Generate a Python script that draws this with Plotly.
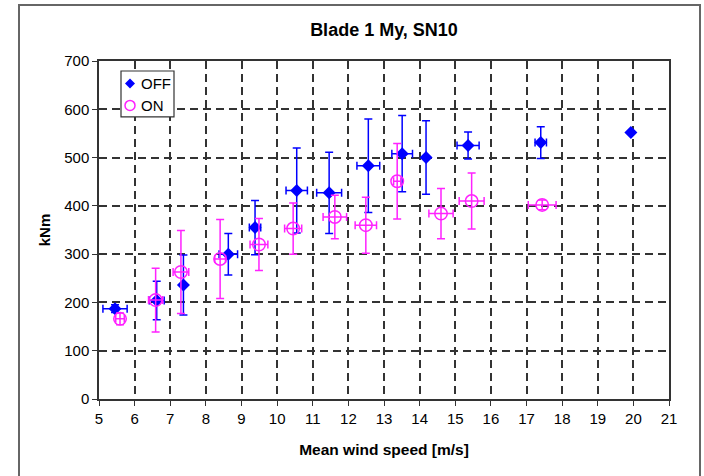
import plotly.graph_objects as go

# Blade 1 flapwise moment (My) vs mean wind speed, SN10
off_ws = [5.45, 6.62, 7.37, 8.63, 9.38, 10.55, 11.46, 12.56, 13.51, 14.18, 15.36, 17.40, 19.93]
off_my = [187, 204, 236, 300, 355, 432, 427, 483, 508, 500, 525, 531, 552]
off_my_err = [8, 40, 62, 43, 56, 88, 84, 97, 79, 76, 28, 33, 0]
off_ws_err = [0.34, 0.21, 0.0, 0.26, 0.16, 0.30, 0.35, 0.32, 0.29, 0.0, 0.31, 0.16, 0.0]

on_ws = [5.59, 6.59, 7.30, 8.40, 9.49, 10.45, 11.62, 12.49, 13.37, 14.60, 15.46, 17.44]
on_my = [166, 205, 263, 290, 320, 353, 377, 360, 451, 384, 410, 402]
on_my_err = [12, 66, 86, 82, 54, 53, 45, 58, 78, 52, 58, 10]
on_ws_err = [0.12, 0.20, 0.22, 0.15, 0.25, 0.24, 0.33, 0.30, 0.10, 0.34, 0.35, 0.39]

x_ticks = list(range(5, 22))
y_ticks = list(range(0, 800, 100))

FONT = "Liberation Sans, Arial, sans-serif"
BLUE = "#0000ff"
MAGENTA = "#ff22ff"

W, H = 704, 476
M_L, M_R, M_T, M_B = 99, 35, 61, 76.5
PW, PH = W - M_L - M_R, H - M_T - M_B


def px_x(px):
    """pixel column -> paper x"""
    return (px - M_L) / PW


def px_y(py):
    """pixel row -> paper y"""
    return (H - M_B - py) / PH


fig = go.Figure()

fig.add_trace(go.Scatter(
    x=off_ws, y=off_my, mode="markers", name="OFF", showlegend=False,
    marker=dict(symbol="diamond", size=10, color=BLUE, line=dict(width=0)),
    error_y=dict(type="data", array=off_my_err, visible=True, color=BLUE, thickness=1.5, width=4),
    error_x=dict(type="data", array=off_ws_err, visible=True, color=BLUE, thickness=1.5, width=4),
))

fig.add_trace(go.Scatter(
    x=on_ws, y=on_my, mode="markers", name="ON", showlegend=False,
    marker=dict(symbol="circle-open", size=12.5, color=MAGENTA, line=dict(width=1.5, color=MAGENTA)),
    error_y=dict(type="data", array=on_my_err, visible=True, color=MAGENTA, thickness=1.5, width=4),
    error_x=dict(type="data", array=on_ws_err, visible=True, color=MAGENTA, thickness=1.5, width=4),
))

shapes = [
    # outer frame around the whole chart
    dict(type="rect", xref="paper", yref="paper",
         x0=px_x(19), x1=px_x(700), y0=px_y(490), y1=px_y(5),
         line=dict(color="#666666", width=2), fillcolor="rgba(0,0,0,0)", layer="below"),
    # compact legend box
    dict(type="rect", xref="paper", yref="paper",
         x0=px_x(121), x1=px_x(174), y0=px_y(117), y1=px_y(71),
         line=dict(color="#333333", width=1.2), fillcolor="white", layer="above"),
    # legend symbol: OFF diamond
    dict(type="path", xref="paper", yref="paper", xsizemode="pixel", ysizemode="pixel",
         xanchor=px_x(130), yanchor=px_y(83.5),
         path="M -5 0 L 0 5 L 5 0 L 0 -5 Z", fillcolor=BLUE, line=dict(width=0), layer="above"),
    # legend symbol: ON open circle
    dict(type="circle", xref="paper", yref="paper", xsizemode="pixel", ysizemode="pixel",
         xanchor=px_x(130), yanchor=px_y(105.5), x0=-5, x1=5, y0=-5, y1=5,
         line=dict(color=MAGENTA, width=1.5), fillcolor="rgba(0,0,0,0)", layer="above"),
]

annotations = [
    dict(text=name, xref="paper", yref="paper", x=px_x(138.5), y=px_y(yc),
         xanchor="left", yanchor="middle", showarrow=False, font=dict(size=15, color="black"))
    for name, yc in (("OFF", 83.5), ("ON", 105.5))
]

fig.update_layout(
    width=W, height=H,
    margin=dict(l=M_L, r=M_R, t=M_T, b=M_B),
    paper_bgcolor="white", plot_bgcolor="white",
    font=dict(family=FONT, color="black", size=15),
    title=dict(text="<b>Blade 1 My, SN10</b>", x=0.5, xref="paper", xanchor="center",
               y=1 - 30 / H, yanchor="middle", font=dict(size=18)),
    showlegend=False,
    shapes=shapes,
    annotations=annotations,
    xaxis=dict(
        range=[5, 21], tickvals=x_ticks, ticktext=[str(v) for v in x_ticks],
        showgrid=True, gridcolor="#333333", gridwidth=1.5, griddash="8px,5px",
        showline=True, linecolor="#333333", linewidth=1.5, mirror=True,
        ticks="outside", ticklen=5, tickcolor="#333333", zeroline=False,
        title=dict(text="<b>Mean wind speed [m/s]</b>", font=dict(size=15.5), standoff=18),
        tickfont=dict(size=15),
    ),
    yaxis=dict(
        range=[0, 700], tickvals=y_ticks, ticktext=[str(v) for v in y_ticks],
        showgrid=True, gridcolor="#333333", gridwidth=1.5, griddash="8px,5px",
        showline=True, linecolor="#333333", linewidth=1.5, mirror=True,
        ticks="outside", ticklen=5, tickcolor="#333333", zeroline=False,
        title=dict(text="<b>kNm</b>", font=dict(size=15), standoff=10),
        tickfont=dict(size=15),
    ),
)

fig.write_html("out.html")
